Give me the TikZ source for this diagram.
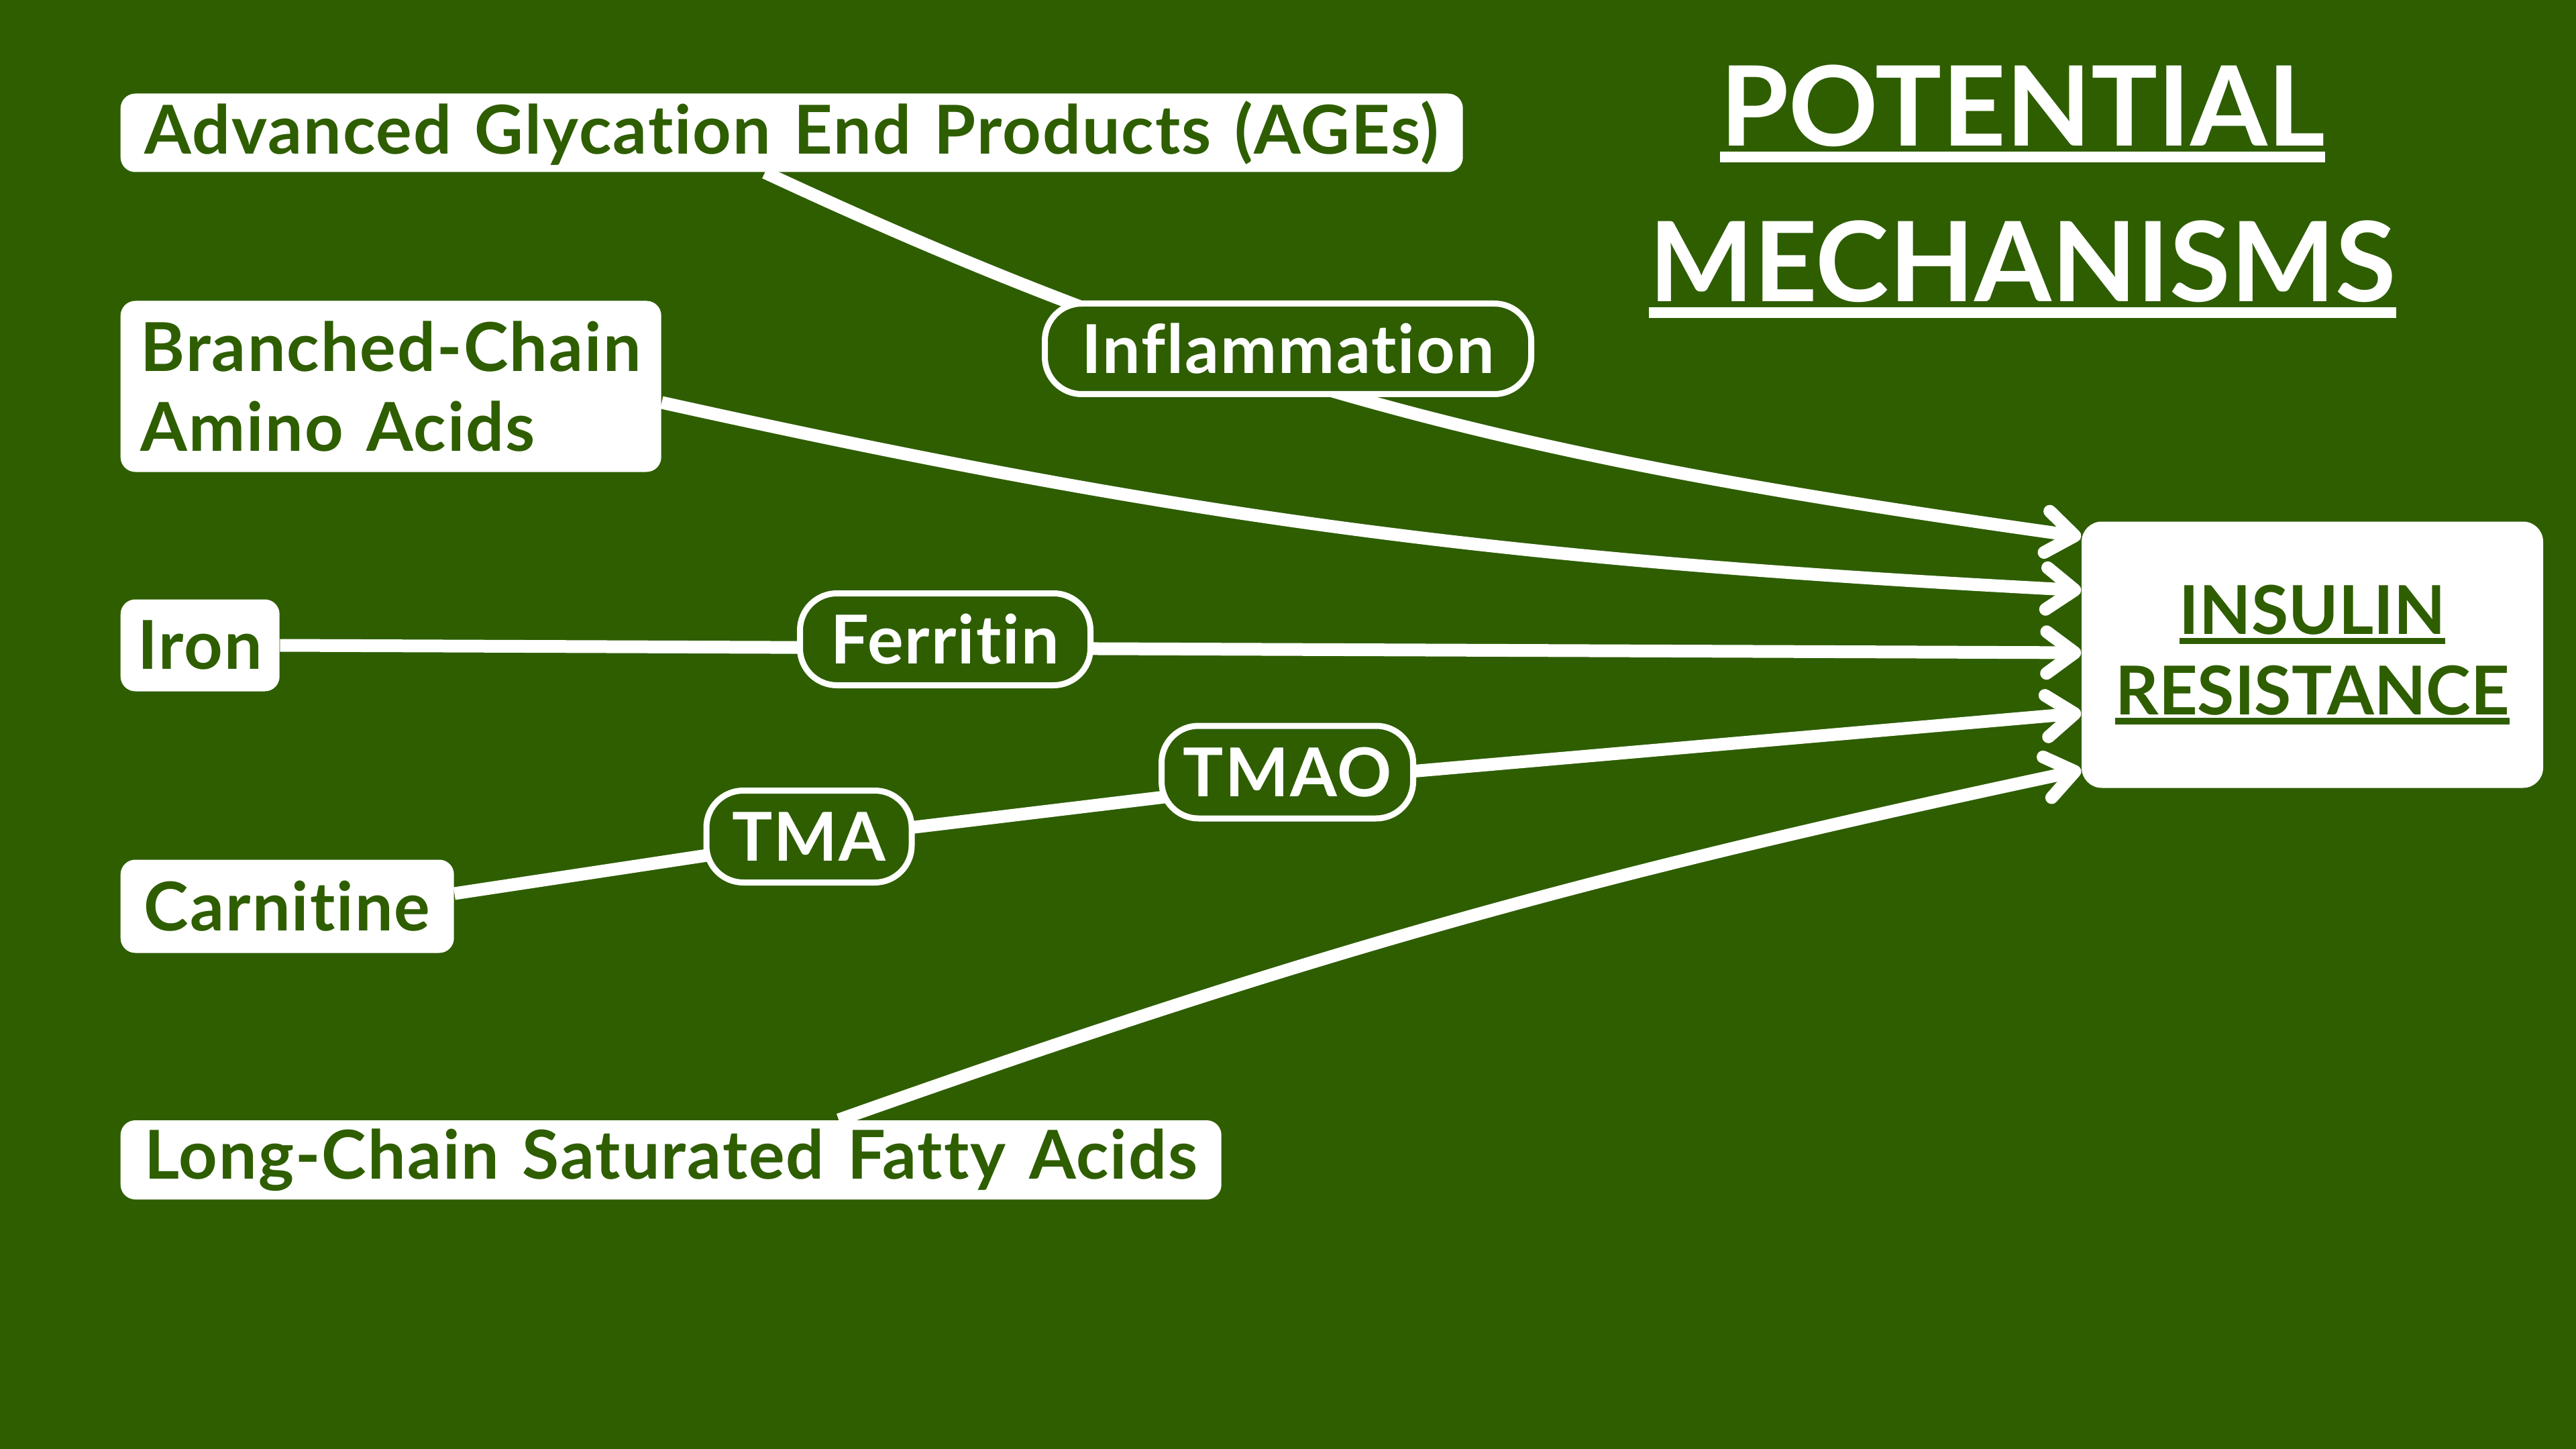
\documentclass[tikz,border=0pt]{standalone}
\usepackage{fontspec}
\setmainfont{Lato}[Ligatures=NoCommon]
\newfontfamily\boxfont{Lato}[Ligatures=NoCommon,LetterSpace=2,WordSpace=1.3]
\usepackage{xcolor}
\usetikzlibrary{arrows.meta,positioning}
\definecolor{leaf}{RGB}{46,94,0}
\pgfdeclarelayer{edges}
\pgfsetlayers{edges,main}
\newsavebox{\ulbox}
% word with a rule under it: {text}{depth of the rule's bottom}{thickness}
\newcommand{\ulword}[3]{\sbox{\ulbox}{#1}\rlap{\usebox{\ulbox}}\rule[-#2]{\wd\ulbox}{#3}}

\begin{document}
\begin{tikzpicture}[->,>={Straight Barb[length=0.42cm,width=0.62cm,round]},
                    box node/.style={fill=white,text=leaf,rounded corners=0.22cm,inner sep=0pt,
                                     font=\boxfont\fontsize{28.6}{34}\selectfont\bfseries},
                    label node/.style={fill=leaf,draw=white,line width=0.09cm,text=white,
                                       rounded corners=0.55cm,inner sep=0pt,
                                       font=\boxfont\fontsize{28.6}{34}\selectfont\bfseries},
                    title node/.style={text=white,inner sep=0pt,anchor=base,
                                       font=\fontsize{47}{56}\selectfont\bfseries}]

        % left hand boxes
        \node[box node,anchor=west,minimum width=20.01cm,minimum height=1.17cm] (ages) at (1.79,-1.98) {Advanced Glycation End Products (AGEs)};
        \node[box node,anchor=west,minimum width=8.06cm,minimum height=2.55cm,align=left] (bcaa) at (1.79,-5.76) {Branched-Chain\\Amino Acids};
        \node[box node,anchor=west,minimum width=2.37cm,minimum height=1.37cm] (iron) at (1.79,-9.62) {Iron};
        \node[box node,anchor=west,minimum width=4.97cm,minimum height=1.39cm] (carn) at (1.79,-13.51) {Carnitine};
        \node[box node,anchor=west,minimum width=16.41cm,minimum height=1.18cm] (lcsfa) at (1.79,-17.29) {Long-Chain Saturated Fatty Acids};

        % target
        \node[box node,minimum width=6.88cm,minimum height=3.97cm,align=center,
              rounded corners=0.3cm,font=\fontsize{28.6}{34}\selectfont\bfseries] (ir) at (34.47,-9.76)
              {\ulword{INSULIN}{4pt}{2.6pt}\\\ulword{RESISTANCE}{4pt}{2.6pt}};

        % intermediates
        \node[label node,minimum width=7.25cm,minimum height=1.35cm] (infl) at (19.20,-5.20) {Inflammation};
        \node[label node,minimum width=4.33cm,minimum height=1.37cm] (ferr) at (14.09,-9.53) {Ferritin};
        \node[label node,minimum width=3.06cm,minimum height=1.37cm] (tma) at (12.06,-12.47) {TMA};
        \node[label node,minimum width=3.75cm,minimum height=1.38cm] (tmao) at (19.19,-11.51) {TMAO};

        % title
        \node[title node] (t1) at (30.15,-2.18) {\ulword{POTENTIAL}{6.8pt}{4.5pt}};
        \node[title node] (t2) at (30.15,-4.50) {\ulword{MECHANISMS}{6.8pt}{4.5pt}};

        \begin{pgfonlayer}{edges}
        \fill[leaf] (0,0) rectangle (38.4,-21.6);
        \path[every edge/.style={draw=white,line width=0.19cm}]
          ([xshift=-0.4cm]ages.south) edge[out=-25,in=172] ([yshift=1.76cm]ir.west)
          ([yshift=-0.24cm]bcaa.east) edge[out=-12.5,in=177] ([yshift=0.96cm]ir.west)
          (iron.east) edge ([yshift=0.03cm]ir.west)
          ([yshift=0.19cm]carn.east) edge[-] ([yshift=-0.05cm]tma.center)
          ([yshift=-0.05cm]tma.center) edge[-] ([yshift=-0.15cm]tmao.center)
          ([yshift=-0.15cm]tmao.center) edge ([yshift=-0.87cm]ir.west)
          ([xshift=2.5cm]lcsfa.north) edge[out=19.5,in=192] ([yshift=-1.72cm]ir.west);
        \end{pgfonlayer}
      \end{tikzpicture}
\end{document}
